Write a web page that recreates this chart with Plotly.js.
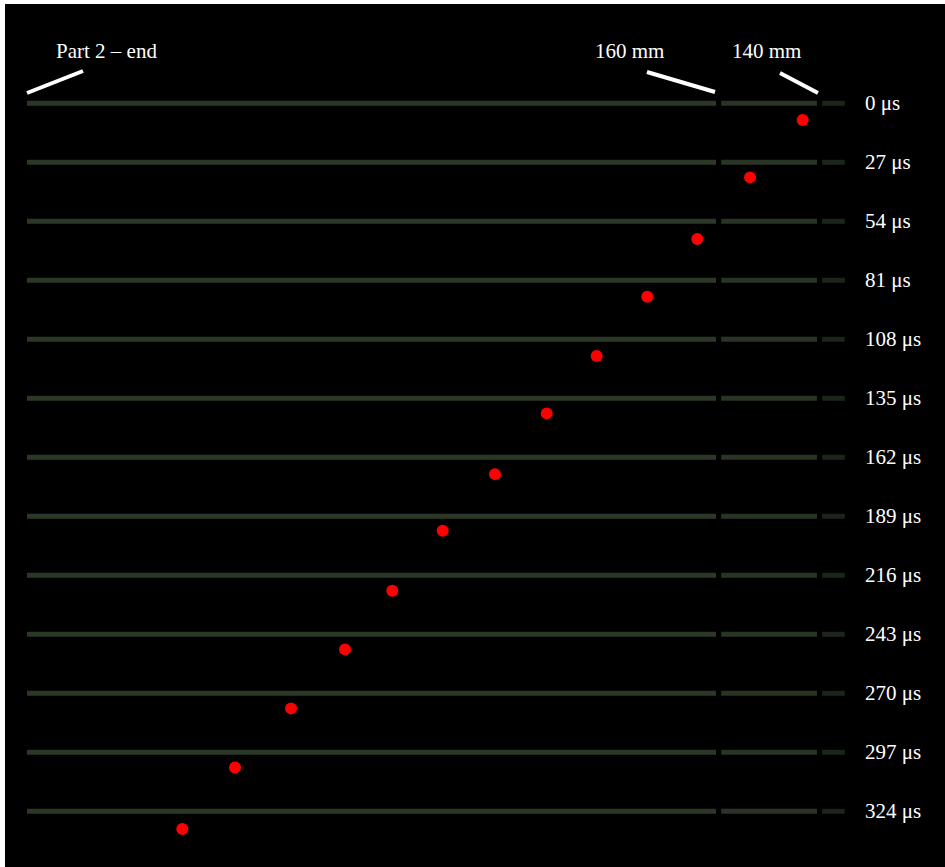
<!DOCTYPE html>
<html>
<head>
<meta charset="utf-8">
<script src="https://cdn.plot.ly/plotly-3.0.1.min.js"></script>
<style>html,body{margin:0;padding:0;background:#fff;}#chart{width:945px;height:867px;}</style>
</head>
<body>
<div id="chart"></div>
<script>
// Frame times (μs), one strip per frame
const frameTimes = [0, 27, 54, 81, 108, 135, 162, 189, 216, 243, 270, 297, 324];
const frameLabels = frameTimes.map(t => t + " μs");

// Strip segments along the specimen (mm)
const segStart = [293.6, 158.8, 139.2];
const segEnd   = [159.8, 140.2, 134.8];
const segColors = ["rgb(43,56,39)", "rgb(40,53,37)", "rgb(26,38,26)"];

// Red markers: position (mm) and time (μs)
const markerPos  = [142.97, 153.20, 163.44, 173.15, 182.97, 192.68, 202.72, 212.87, 222.66, 231.84, 242.33, 253.20, 263.44];
const markerTime = [7.6, 33.9, 62.1, 88.5, 115.6, 141.9, 169.7, 195.6, 223.1, 249.9, 276.9, 304.0, 332.1];

// Top labels
const topLabels = ["Part 2 – end", "160 mm", "140 mm"];

// pixel helpers (for decoration placement only)
const pxPerMm = 5.15, pxPerUs = 59.0 / 27;
const mmAt = px => 160 - (px - 715) / pxPerMm;
const usAt = py => (py - 103.3) / pxPerUs;

const traces = [];
segStart.forEach((s, k) => {
  const xs = [], ys = [];
  frameTimes.forEach(t => { xs.push(s, segEnd[k], null); ys.push(t, t, null); });
  traces.push({type: "scatter", mode: "lines", x: xs, y: ys,
    line: {color: segColors[k], width: 5}, hoverinfo: "skip", showlegend: false});
});
traces.push({type: "scatter", mode: "markers", x: markerPos, y: markerTime,
  marker: {color: "#ff0000", size: 12, line: {width: 0}}, showlegend: false});

const font = {family: "Liberation Serif, 'Times New Roman', serif", size: 21, color: "#ffffff"};
const annotations = frameTimes.map((t, i) => ({
  x: mmAt(863), y: t, xref: "x", yref: "y", text: frameLabels[i],
  showarrow: false, xanchor: "left", yanchor: "middle", font: font
}));
const topPos = [[106, 51], [629, 51], [766, 51]];
topLabels.forEach((txt, i) => annotations.push({
  x: mmAt(topPos[i][0]), y: usAt(topPos[i][1]), xref: "x", yref: "y", text: txt,
  showarrow: false, xanchor: "center", yanchor: "middle", font: font
}));
const seg = [[27, 93, 83, 71], [647, 72, 715, 92], [780, 73, 818, 93]];
const shapes = seg.map(s => ({type: "line", xref: "x", yref: "y",
  x0: mmAt(s[0]), y0: usAt(s[1]), x1: mmAt(s[2]), y1: usAt(s[3]),
  line: {color: "#ffffff", width: 4}}));

const layout = {
  width: 945, height: 867,
  margin: {l: 5, t: 4, r: 0, b: 0, pad: 0},
  paper_bgcolor: "#ffffff", plot_bgcolor: "#000000",
  xaxis: {range: [mmAt(5), mmAt(945)], visible: false, fixedrange: true},
  yaxis: {range: [usAt(867), usAt(4)], visible: false, fixedrange: true},
  annotations: annotations, shapes: shapes, showlegend: false
};
Plotly.newPlot("chart", traces, layout, {displayModeBar: false, staticPlot: true});
</script>
</body>
</html>
